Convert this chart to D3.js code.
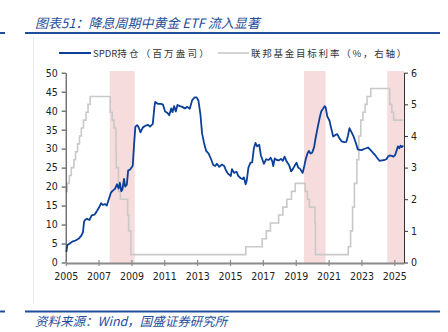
<!DOCTYPE html>
<html>
<head>
<meta charset="utf-8">
<script src="https://cdn.jsdelivr.net/npm/d3@7"></script>
<style>
  html, body { margin: 0; padding: 0; background: #fff; }
  svg { display: block; }
</style>
</head>
<body>
<div id="chart"></div>
<script>
// ---------------- data ----------------
const titleText = "图表51：降息周期中黄金 ETF 流入显著";
const sourceText = "资料来源：Wind，国盛证券研究所";
const seriesNames = ["SPDR持仓（百万盎司）", "联邦基金目标利率（%，右轴）"];

// SPDR holdings (million oz), by decimal year
const spdrYears = [
  2005.04,2005.10,2005.25,2005.40,2005.60,2005.80,2005.97,2006.05,2006.12,2006.20,
  2006.30,2006.45,2006.58,2006.75,2006.88,2007.02,2007.15,2007.25,2007.40,2007.50,
  2007.62,2007.75,2007.88,2008.00,2008.12,2008.22,2008.30,2008.38,2008.45,2008.55,
  2008.62,2008.72,2008.80,2008.92,2009.08,2009.16,2009.24,2009.35,2009.45,2009.55,
  2009.70,2009.85,2010.00,2010.13,2010.30,2010.40,2010.45,2010.60,2010.80,2010.92,
  2011.05,2011.20,2011.30,2011.42,2011.50,2011.60,2011.70,2011.80,2011.95,2012.10,
  2012.25,2012.40,2012.55,2012.70,2012.85,2012.97,2013.08,2013.20,2013.30,2013.42,
  2013.55,2013.70,2013.85,2013.98,2014.10,2014.20,2014.35,2014.50,2014.65,2014.75,
  2014.88,2015.05,2015.12,2015.25,2015.40,2015.50,2015.65,2015.75,2015.85,2015.95,
  2016.02,2016.12,2016.25,2016.35,2016.45,2016.55,2016.65,2016.78,2016.88,2016.98,
  2017.06,2017.20,2017.35,2017.47,2017.58,2017.63,2017.72,2017.85,2017.98,2018.10,
  2018.22,2018.32,2018.45,2018.60,2018.72,2018.82,2018.95,2019.05,2019.15,2019.28,
  2019.42,2019.50,2019.62,2019.72,2019.80,2019.90,2020.00,2020.12,2020.22,2020.32,
  2020.45,2020.55,2020.66,2020.76,2020.82,2020.92,2021.05,2021.18,2021.28,2021.42,
  2021.53,2021.65,2021.80,2021.95,2022.08,2022.18,2022.27,2022.40,2022.52,2022.65,
  2022.78,2022.90,2023.02,2023.15,2023.28,2023.40,2023.52,2023.62,2023.72,2023.85,
  2023.95,2024.10,2024.25,2024.40,2024.52,2024.62,2024.72,2024.84,2024.95,2025.05,
  2025.15,2025.22,2025.30,2025.38,2025.45,2025.55
];
const spdrValues = [
  2.8,4.6,5.0,5.5,5.8,6.3,7.2,8.0,10.8,11.3,
  11.5,11.2,12.4,12.6,13.4,14.4,15.6,15.2,15.4,15.0,
  16.6,18.4,19.0,19.4,20.6,19.5,21.0,18.8,19.2,22.0,
  20.0,20.5,24.2,24.5,25.5,31.0,35.8,36.2,35.5,34.3,
  35.6,36.0,36.3,35.8,36.5,41.0,42.3,41.8,41.8,41.6,
  39.8,39.4,38.8,40.6,39.6,41.2,39.8,41.5,41.2,41.0,
  40.6,41.0,40.5,42.8,43.5,43.5,42.6,39.0,34.0,31.5,
  29.4,28.7,27.2,25.7,25.4,26.0,25.2,25.8,25.4,24.3,
  23.4,22.8,24.6,23.6,23.9,22.8,22.2,22.0,22.4,20.6,
  21.6,25.0,26.3,26.4,30.0,31.5,30.6,31.0,28.2,27.0,
  26.0,27.2,27.0,27.6,26.6,25.4,27.4,27.0,26.9,27.3,
  26.8,27.9,26.6,25.6,24.0,24.6,25.6,26.3,25.0,24.6,
  23.6,25.0,27.4,28.8,29.4,28.7,28.9,30.4,33.0,35.2,
  38.0,39.8,40.5,41.2,40.9,38.5,37.4,35.0,33.2,33.6,
  33.8,32.8,31.9,31.7,31.8,33.4,35.4,34.3,33.2,31.6,
  29.8,29.7,29.6,29.9,30.1,30.3,29.8,29.3,28.8,28.2,
  27.6,26.8,26.9,27.0,27.2,27.9,28.2,28.1,27.9,28.3,
  29.6,30.6,30.1,30.8,30.4,30.8
];

// Fed funds target rate (%), value effective from each decimal year
const fedYears = [
  2005.00,2005.09,2005.22,2005.34,2005.50,2005.60,2005.72,2005.84,2005.95,2006.08,
  2006.24,2006.36,2006.49,2007.71,2007.83,2007.94,2008.06,2008.08,2008.21,2008.33,
  2008.77,2008.83,2008.96,2015.96,2016.96,2017.21,2017.46,2017.96,2018.22,2018.46,
  2018.74,2018.97,2019.58,2019.71,2019.83,2020.17,2020.20,2022.20,2022.34,2022.46,
  2022.57,2022.72,2022.84,2022.96,2023.09,2023.22,2023.34,2023.57,2024.72,2024.85,
  2024.96,2025.55
];
const fedRates = [
  2.25,2.50,2.75,3.00,3.25,3.50,3.75,4.00,4.25,4.50,
  4.75,5.00,5.25,4.75,4.50,4.25,3.50,3.00,2.25,2.00,
  1.50,1.00,0.25,0.50,0.75,1.00,1.25,1.50,1.75,2.00,
  2.25,2.50,2.25,2.00,1.75,1.25,0.25,0.50,1.00,1.75,
  2.50,3.25,4.00,4.50,4.75,5.00,5.25,5.50,5.00,4.75,
  4.50,4.50
];

// Rate-cut cycles (shaded)
const shadeStart = [2007.68, 2019.50, 2024.57];
const shadeEnd   = [2009.20, 2020.82, 2025.60];

const xTicks = [2005,2007,2009,2011,2013,2015,2017,2019,2021,2023,2025];
const yLeftTicks = [0,5,10,15,20,25,30,35,40,45,50];
const yRightTicks = [0,1,2,3,4,5,6];

// ---------------- drawing ----------------
const W = 448, H = 332;
const blue = "#1f4e9c";
const spdrColor = "#0b3f99";
const fedColor = "#c9c9c9";
const shadeColor = "#f6dcdc";
const numFont = "'DejaVu Sans Condensed', 'DejaVu Sans', sans-serif";
const cjkFont = "'Noto Sans CJK SC', sans-serif";

const svg = d3.select("#chart").append("svg")
  .attr("width", W).attr("height", H)
  .style("background", "#fff");

// header / footer decoration
svg.append("text").attr("x", 35).attr("y", 28)
  .attr("font-family", cjkFont).attr("font-size", 13).attr("font-style", "italic")
  .attr("fill", blue).text(titleText);
[[0,5],[25,440]].forEach(([a,b]) => {
  svg.append("line").attr("x1", a).attr("x2", b).attr("y1", 33).attr("y2", 33)
    .attr("stroke", blue).attr("stroke-width", 2);
  svg.append("line").attr("x1", a).attr("x2", b).attr("y1", 311.5).attr("y2", 311.5)
    .attr("stroke", blue).attr("stroke-width", 2);
});
svg.append("line").attr("x1", 33.5).attr("x2", 33.5).attr("y1", 36).attr("y2", 304)
  .attr("stroke", "#ececec").attr("stroke-width", 1);
svg.append("text").attr("x", 35).attr("y", 326)
  .attr("font-family", cjkFont).attr("font-size", 12.5).attr("font-style", "italic")
  .attr("fill", blue).text(sourceText);

// scales
const x = d3.scaleLinear().domain([2005, 2025.59]).range([65.7, 404]);
const yL = d3.scaleLinear().domain([0, 50]).range([262.5, 72.7]);
const yR = d3.scaleLinear().domain([0, 6]).range([262.5, 72.7]);

// shading
svg.append("g").selectAll("rect").data(shadeStart.map((s, i) => [s, shadeEnd[i]]))
  .join("rect")
  .attr("x", d => x(d[0])).attr("width", d => x(d[1]) - x(d[0]))
  .attr("y", 71).attr("height", 263 - 71)
  .attr("fill", shadeColor);

// lines
const fedData = fedYears.map((t, i) => [t, fedRates[i]]);
const spdrData = spdrYears.map((t, i) => [t, spdrValues[i]]);

svg.append("path").datum(fedData)
  .attr("fill", "none").attr("stroke", fedColor).attr("stroke-width", 1.6)
  .attr("d", d3.line().x(d => x(d[0])).y(d => yR(d[1])).curve(d3.curveStepAfter));

svg.append("path").datum(spdrData)
  .attr("fill", "none").attr("stroke", spdrColor).attr("stroke-width", 1.8)
  .attr("stroke-linejoin", "round")
  .attr("d", d3.line().x(d => x(d[0])).y(d => yL(d[1])));

// axes
function styleAxis(g, lineColor, lineWidth) {
  g.selectAll("text").attr("font-family", numFont).attr("font-size", 10.5).attr("fill", "#222");
  g.select(".domain").attr("stroke", lineColor).attr("stroke-width", lineWidth);
  g.selectAll(".tick line").attr("stroke", lineColor);
}
const gL = svg.append("g").attr("transform", "translate(65.7,0)")
  .call(d3.axisLeft(yL).tickValues(yLeftTicks).tickFormat(d3.format("d"))
    .tickSize(4).tickSizeOuter(0).tickPadding(4));
styleAxis(gL, "#333", 1);

const gR = svg.append("g").attr("transform", "translate(404,0)")
  .call(d3.axisRight(yR).tickValues(yRightTicks).tickFormat(d3.format("d"))
    .tickSize(4).tickSizeOuter(0).tickPadding(3));
styleAxis(gR, "#333", 1);

const gB = svg.append("g").attr("transform", "translate(0,263)")
  .call(d3.axisBottom(x).tickValues(xTicks).tickFormat(d3.format("d"))
    .tickSize(3).tickSizeOuter(0).tickPadding(7));
styleAxis(gB, "#8a8a8a", 2);
gB.selectAll(".tick line").attr("y1", -3).attr("stroke-width", 1.2);

// legend
const lg = svg.append("g").attr("font-family", cjkFont).attr("font-size", 9.5).attr("fill", "#333");
function legendItem(x0, x1, color, width, name, textEnd) {
  lg.append("line").attr("x1", x0).attr("x2", x1).attr("y1", 53).attr("y2", 53)
    .attr("stroke", color).attr("stroke-width", width);
  const latin = name.match(/^[A-Za-z]*/)[0];
  const rest = name.slice(latin.length);
  const t = lg.append("text").attr("x", x1 + 2).attr("y", 56.5);
  if (latin) t.append("tspan").text(latin);
  const ts = t.append("tspan").text(rest);
  const natural = t.node().getComputedTextLength();
  const target = textEnd - (x1 + 2);
  const sp = Math.max(0, (target - natural) / rest.length);
  ts.attr("letter-spacing", sp);
}
legendItem(59, 91, spdrColor, 2, seriesNames[0], 211);
legendItem(218, 249, fedColor, 1.6, seriesNames[1], 408);
</script>
</body>
</html>
